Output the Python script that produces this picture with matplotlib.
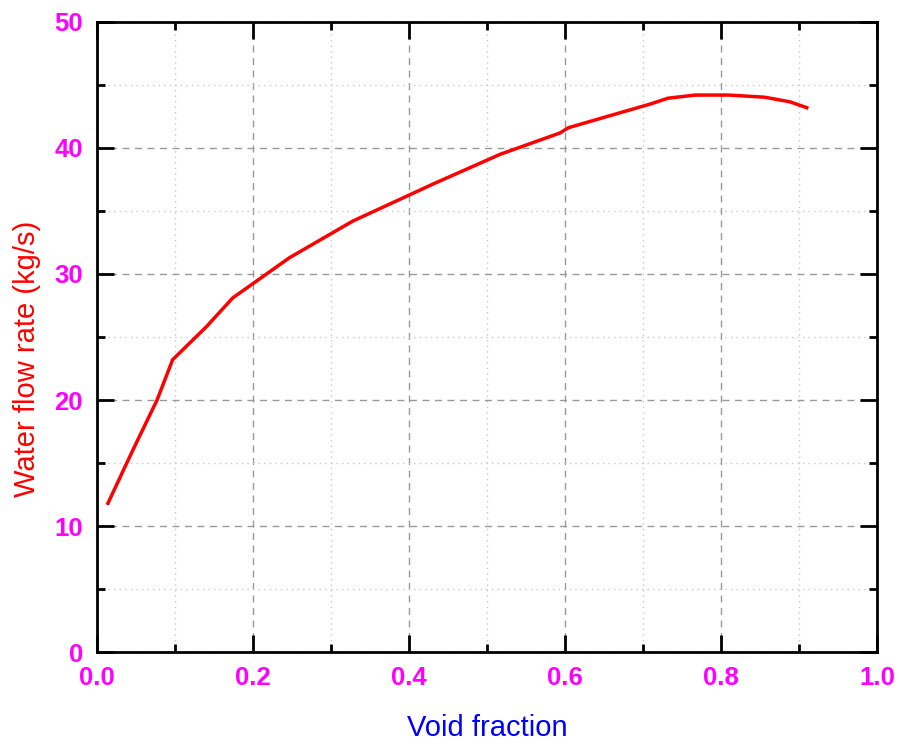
import matplotlib
matplotlib.use('Agg')
import matplotlib.pyplot as plt
from matplotlib.ticker import MultipleLocator

# 공극률 - 물 유량 데이터
void_fraction = [0.014, 0.045, 0.077, 0.097, 0.14, 0.174, 0.247, 0.328, 0.433,
                 0.517, 0.594, 0.604, 0.654, 0.710, 0.732, 0.767, 0.81, 0.856,
                 0.888, 0.910]
water_flow = [11.8, 15.9, 20.0, 23.2, 25.8, 28.1, 31.3, 34.2, 37.2,
              39.5, 41.2, 41.6, 42.5, 43.5, 43.95, 44.2, 44.2, 44.03,
              43.67, 43.2]

plt.rcParams['font.family'] = ['Liberation Sans', 'DejaVu Sans']

fig = plt.figure(figsize=(8.99, 7.45), dpi=100)
ax = fig.add_axes([0.1079, 0.1248, 0.8676, 0.8457])

ax.plot(void_fraction, water_flow, color='#ff0000', lw=2.5)

ax.set_xlim(0, 1.0)
ax.set_ylim(0, 50)
ax.xaxis.set_major_locator(MultipleLocator(0.2))
ax.xaxis.set_minor_locator(MultipleLocator(0.1))
ax.yaxis.set_major_locator(MultipleLocator(10))
ax.yaxis.set_minor_locator(MultipleLocator(5))
ax.set_xticklabels(['%.1f' % v for v in ax.get_xticks()])

ax.grid(which='major', color='#999999', linestyle=(0, (5, 4)), lw=1.0)
ax.grid(which='minor', color='#c8c8c8', linestyle=(0, (1, 3)), lw=1.0)

ax.tick_params(which='both', direction='in', top=True, right=True, width=2, color='black')
ax.tick_params(which='major', length=12, pad=10, labelsize=18.5, labelcolor='#ff00ff')
ax.tick_params(which='minor', length=6)
for t in ax.get_xticklabels() + ax.get_yticklabels():
    t.set_fontweight('bold')
for s in ax.spines.values():
    s.set_linewidth(2)

ax.set_xlabel('Void fraction', color='#0000ff', fontsize=21, labelpad=17)
ax.set_ylabel('Water flow rate (kg/s)', color='#ff0000', fontsize=21)
ax.yaxis.set_label_coords(-0.072, 0.466)

fig.savefig('out.png', dpi=100)
